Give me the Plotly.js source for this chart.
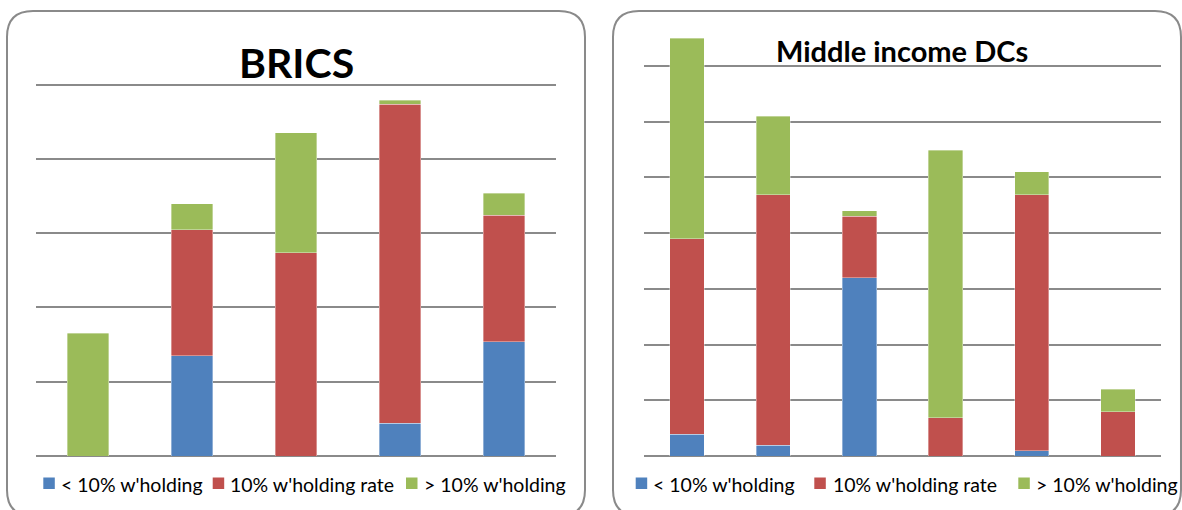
<!DOCTYPE html>
<html>
<head>
<meta charset="utf-8">
<script src="https://cdn.plot.ly/plotly-3.0.1.min.js"></script>
<style>html,body{margin:0;padding:0;background:#fff;}#chart{width:1182px;height:510px;}</style>
</head>
<body>
<div id="chart"></div>
<script>
// ---- Data ----
const seriesNames = ["< 10% w'holding", "10% w'holding rate", "> 10% w'holding"];
const seriesColors = ['#4F81BD', '#C0504D', '#9BBB59'];

const bricsCategories = ['BRICS 1', 'BRICS 2', 'BRICS 3', 'BRICS 4', 'BRICS 5'];
const bricsBelow = [0, 1.35, 0, 0.44, 1.54];
const bricsAt    = [0, 1.70, 2.74, 4.30, 1.70];
const bricsAbove = [1.65, 0.35, 1.61, 0.05, 0.30];

const midCategories = ['MIDC 1', 'MIDC 2', 'MIDC 3', 'MIDC 4', 'MIDC 5', 'MIDC 6'];
const midBelow = [0.39, 0.19, 3.20, 0, 0.09, 0];
const midAt    = [3.51, 4.50, 1.10, 0.69, 4.60, 0.79];
const midAbove = [3.60, 1.41, 0.10, 4.80, 0.41, 0.41];

const panelTitles = ['BRICS', 'Middle income DCs'];

// ---- Build ----
const W = 1182, H = 510;
const px = v => v / W;
const py = v => 1 - v / H;
const FONT = 'Lato, Carlito, sans-serif';

function barTrace(x, y, i, xa, ya) {
  return {
    type: 'bar', x: x, y: y, name: seriesNames[i],
    xaxis: xa, yaxis: ya, showlegend: false,
    marker: {color: seriesColors[i], line: {color: 'rgba(255,255,255,0.6)', width: 0.6}},
    hoverinfo: 'name+y'
  };
}

const data = [
  barTrace(bricsCategories, bricsBelow, 0, 'x', 'y'),
  barTrace(bricsCategories, bricsAt, 1, 'x', 'y'),
  barTrace(bricsCategories, bricsAbove, 2, 'x', 'y'),
  barTrace(midCategories, midBelow, 0, 'x2', 'y2'),
  barTrace(midCategories, midAt, 1, 'x2', 'y2'),
  barTrace(midCategories, midAbove, 2, 'x2', 'y2')
];

function rr(x0, y0, x1, y1, r) {
  const X = v => px(v).toFixed(5), Y = v => py(v).toFixed(5);
  return `M${X(x0+r)},${Y(y0)} L${X(x1-r)},${Y(y0)} Q${X(x1)},${Y(y0)} ${X(x1)},${Y(y0+r)} ` +
         `L${X(x1)},${Y(y1-r)} Q${X(x1)},${Y(y1)} ${X(x1-r)},${Y(y1)} L${X(x0+r)},${Y(y1)} ` +
         `Q${X(x0)},${Y(y1)} ${X(x0)},${Y(y1-r)} L${X(x0)},${Y(y0+r)} Q${X(x0)},${Y(y0)} ${X(x0+r)},${Y(y0)} Z`;
}

const gridStyle = {
  showgrid: true, gridcolor: '#8a8a8a', gridwidth: 2,
  zeroline: true, zerolinecolor: '#8a8a8a', zerolinewidth: 2,
  showticklabels: false, ticks: '', showline: false, dtick: 1, tick0: 0, fixedrange: true
};

// Legend entries (drawn as text + colour swatches, one row per panel)
const legendRows = [
  {swatchX: [43.3, 212.7, 406], textX: [59.5, 229, 423]},
  {swatchX: [635.7, 814.3, 1018.3], textX: [652, 831.5, 1034.5]}
];
const legendY = 484;
const swatch = 11.5;

const annotations = [
  {text: '<b>' + panelTitles[0] + '</b>', xref: 'paper', yref: 'paper', x: px(296), y: py(62),
   xanchor: 'center', yanchor: 'middle', showarrow: false,
   font: {family: FONT, size: 41, color: '#000'}},
  {text: '<b>' + panelTitles[1] + '</b>', xref: 'paper', yref: 'paper', x: px(901.5), y: py(51),
   xanchor: 'center', yanchor: 'middle', showarrow: false,
   font: {family: FONT, size: 29, color: '#000'}}
];
const shapes = [
  {type: 'path', xref: 'paper', yref: 'paper', path: rr(7, 11, 585, 516, 26), line: {color: '#8a8a8a', width: 2}, layer: 'below'},
  {type: 'path', xref: 'paper', yref: 'paper', path: rr(613, 11, 1181, 516, 26), line: {color: '#8a8a8a', width: 2}, layer: 'below'}
];
legendRows.forEach(row => {
  seriesNames.forEach((name, i) => {
    annotations.push({text: name, xref: 'paper', yref: 'paper', x: px(row.textX[i]), y: py(legendY),
      xanchor: 'left', yanchor: 'middle', showarrow: false, borderpad: 0,
      font: {family: FONT, size: 19.5, color: '#000'}});
    shapes.push({type: 'rect', xref: 'paper', yref: 'paper',
      x0: px(row.swatchX[i]), x1: px(row.swatchX[i] + swatch),
      y0: py(legendY - 6.5), y1: py(legendY - 6.5 + swatch),
      fillcolor: seriesColors[i], line: {width: 0}});
  });
});

const layout = {
  width: W, height: H,
  margin: {l: 0, r: 0, t: 0, b: 0, autoexpand: false},
  paper_bgcolor: '#fff', plot_bgcolor: 'rgba(0,0,0,0)',
  barmode: 'stack', bargap: 0.6,
  showlegend: false,
  xaxis: {domain: [px(36), px(556)], anchor: 'y', showgrid: false, zeroline: false, showticklabels: false, ticks: '', fixedrange: true},
  yaxis: Object.assign({domain: [py(456), py(456 - 5.03 * 74.26)], anchor: 'x', range: [0, 5.03]}, gridStyle),
  xaxis2: {domain: [px(644), px(1161)], anchor: 'y2', showgrid: false, zeroline: false, showticklabels: false, ticks: '', fixedrange: true},
  yaxis2: Object.assign({domain: [py(456), py(33.6)], anchor: 'x2', range: [0, 7.58]}, gridStyle),
  annotations: annotations,
  shapes: shapes
};

Plotly.newPlot('chart', data, layout, {displayModeBar: false, staticPlot: true});
</script>
</body>
</html>
